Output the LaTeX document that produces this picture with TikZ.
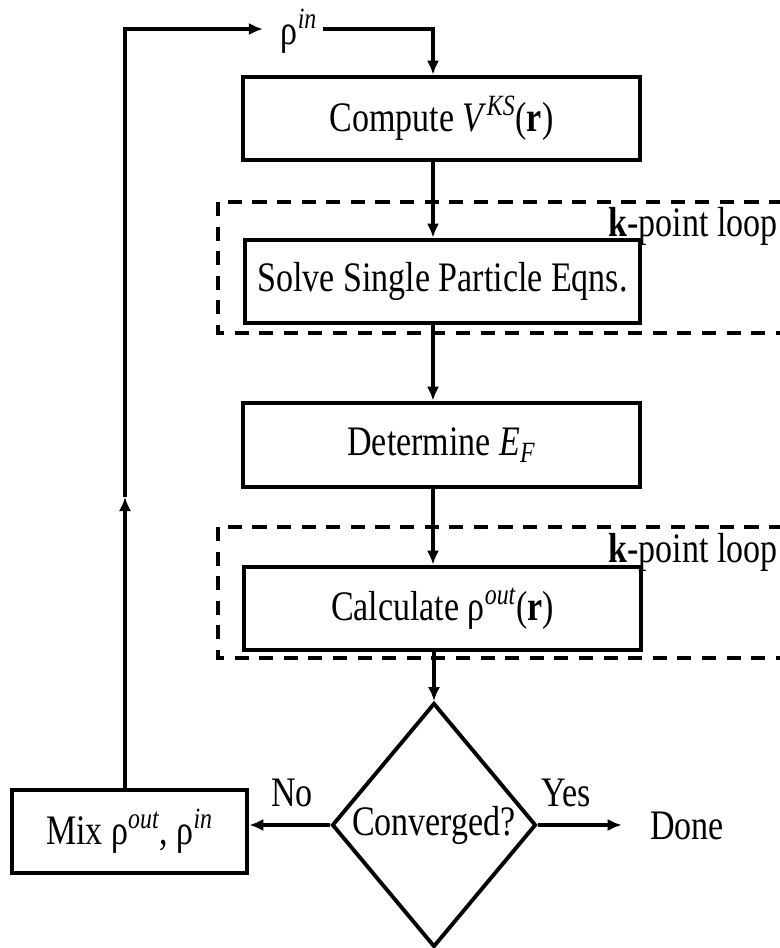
\documentclass[tikz,border=0pt]{standalone}
\usepackage{fontspec}
\setmainfont[FakeStretch=0.81]{Liberation Serif}
\usetikzlibrary{shapes.geometric,arrows.meta}
\newcommand\supit[1]{\textsuperscript{\itshape #1}}
\newcommand\subit[1]{\textsubscript{\itshape #1}}
\begin{document}
\begin{tikzpicture}[x=0.02cm,y=-0.02cm,
  font=\fontsize{23.9}{28}\selectfont,
  box/.style={draw, line width=2.7pt, minimum width=#1*0.02cm,
    minimum height=83*0.02cm, inner sep=0pt},
  link/.style={line width=2.2pt, -{Latex[length=8pt,width=7pt]}},
  loopbox/.style={draw, line width=2.2pt, dash pattern=on 8pt off 6pt},
  lbl/.style={inner sep=0pt}]
\clip (0,0) rectangle (780,948);

% k-point loops (dashed frames, open to the right)
\draw[loopbox] (218,202) rectangle (800,333);
\draw[loopbox] (218,527) rectangle (800,658);
\node[lbl, anchor=base west] (kloopA) at (608,236) {\textbf{k}-point loop};
\node[lbl, anchor=base west] (kloopB) at (608,562) {\textbf{k}-point loop};

% process steps
\node[box=397] (comp) at (441.5,118.5) {Compute \textit{V}\supit{KS}(\textbf{r})};
\node[box=395] (solve) at (442.5,281.5) {Solve Single Particle Eqns.};
\node[box=397, minimum height=84*0.02cm] (det) at (441.5,445) {Determine \textit{E}\subit{F}};
\node[box=397] (calc) at (442.5,608.5) {Calculate ρ\supit{out}(\textbf{r})};
\node[box=235] (mix) at (129.5,831.5) {Mix ρ\supit{out}, ρ\supit{in}};
\node[diamond, draw, line width=2.2pt, inner sep=0pt, aspect=0.83,
  minimum width=204*0.02cm, minimum height=244*0.02cm] (conv) at (434,825) {Converged?};

% labels
\node[lbl] (rhoin) at (299,31) {ρ\supit{in}};
\node[lbl] (no) at (292,793) {No};
\node[lbl] (yes) at (566,793) {Yes};
\node[lbl] (done) at (687,826) {Done};

% helper points
\coordinate (tl) at (125,29);
\coordinate (mid) at (125,497);
\coordinate (axis) at (433,0);

% main flow
\draw[link, shorten <=3pt] (rhoin.east |- tl) -- (tl -| axis) -- (comp.north -| axis);
\draw[link] (comp.south -| axis) -- (solve.north -| axis);
\draw[link] (solve.south -| axis) -- (det.north -| axis);
\draw[link] (det.south -| axis) -- (calc.north -| axis);
\draw[link] (calc.south -| conv.north) -- (conv.north);
\draw[link] (conv.west) -- (conv.west -| mix.east);
\draw[link, shorten >=16pt] (conv.east) -- (conv.east -| done.west);

% feedback loop
\draw[link] (mix.north -| tl) -- (mid);
\draw[link, shorten >=10pt] (mid) -- (tl) -- (rhoin.west |- tl);
\end{tikzpicture}
\end{document}
